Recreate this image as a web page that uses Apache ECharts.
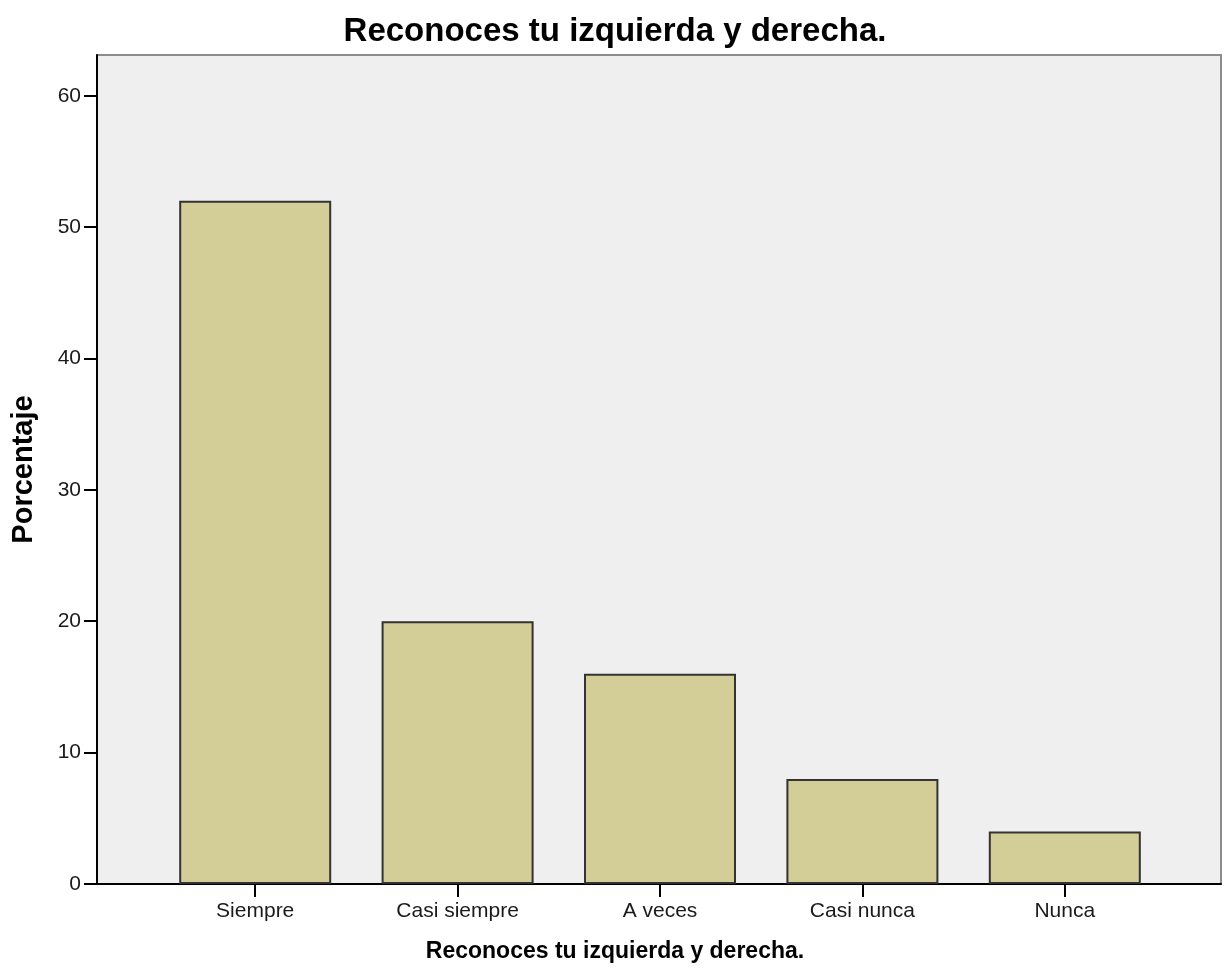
<!DOCTYPE html>
<html>
<head>
<meta charset="utf-8">
<script src="https://cdn.jsdelivr.net/npm/echarts@6/dist/echarts.min.js"></script>
<style>html,body{margin:0;padding:0;background:#fff}#c{width:1230px;height:979px}</style>
</head>
<body>
<div id="c"></div>
<script>
const titleText = 'Reconoces tu izquierda y derecha.';
const xAxisName = 'Reconoces tu izquierda y derecha.';
const yAxisName = 'Porcentaje';
const categories = ['Siempre', 'Casi siempre', 'A veces', 'Casi nunca', 'Nunca'];
const percentages = [52, 20, 16, 8, 4];
const yTicks = [0, 10, 20, 30, 40, 50, 60];
const yMax = 63.1;

const font = "'Liberation Sans', Arial, sans-serif";
const chart = echarts.init(document.getElementById('c'), null, {renderer: 'canvas'});
chart.setOption({
  animation: false,
  backgroundColor: '#ffffff',
  title: [
    {
      text: titleText, left: 'center', top: 15, padding: 0,
      textStyle: {fontFamily: font, fontSize: 33, fontWeight: 'bold', color: '#000'}
    },
    {
      text: xAxisName, left: 'center', top: 940, padding: 0,
      textStyle: {fontFamily: font, fontSize: 23, fontWeight: 'bold', color: '#000'}
    }
  ],
  grid: [
    {left: 97, right: 9, top: 55, bottom: 95, show: true, backgroundColor: '#efefef', borderColor: '#8c8c8c', borderWidth: 2},
    {left: 154, right: 64, top: 55, bottom: 95}
  ],
  xAxis: [
    {
      type: 'value', gridIndex: 0, min: 0, max: 1,
      axisLine: {show: true, lineStyle: {color: '#000', width: 2}},
      axisTick: {show: false}, axisLabel: {show: false}, splitLine: {show: false}
    },
    {
      type: 'category', gridIndex: 1, data: categories,
      axisLine: {show: false},
      axisTick: {show: true, alignWithLabel: true, length: 13, lineStyle: {color: '#000', width: 2}},
      axisLabel: {fontFamily: font, fontSize: 21, color: '#1a1a1a', margin: 17}
    }
  ],
  yAxis: [
    {
      type: 'value', gridIndex: 0, min: 0, max: yMax,
      axisLine: {show: true, lineStyle: {color: '#000', width: 2}},
      axisTick: {show: true, length: 13, customValues: yTicks, lineStyle: {color: '#000', width: 2}},
      axisLabel: {customValues: yTicks, fontFamily: font, fontSize: 21, color: '#1a1a1a', margin: 16},
      splitLine: {show: false},
      name: yAxisName, nameLocation: 'middle', nameGap: 59,
      nameTextStyle: {fontFamily: font, fontSize: 29, fontWeight: 'bold', color: '#000'}
    },
    {
      type: 'value', gridIndex: 1, min: 0, max: yMax, show: false, splitLine: {show: false}
    }
  ],
  series: [{
    type: 'bar', xAxisIndex: 1, yAxisIndex: 1, data: percentages, barWidth: 152,
    itemStyle: {color: '#d3ce97', borderColor: '#333', borderWidth: 2}
  }]
});
</script>
</body>
</html>
